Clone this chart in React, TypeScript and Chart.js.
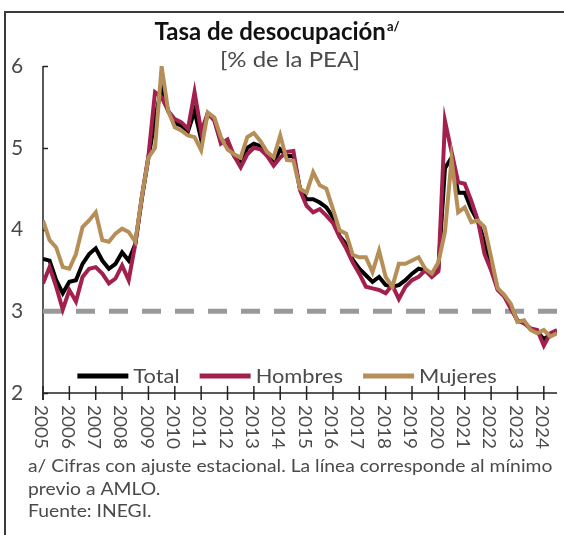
import React, { useEffect, useRef } from 'react';
import { Chart, registerables } from 'chart.js';

Chart.register(...registerables);

// ---- Data (quarterly, 2005Q1 .. 2024Q3) ----
const START_YEAR = 2005;
const END_X = 2024.5;
const yearTicks = [2005, 2006, 2007, 2008, 2009, 2010, 2011, 2012, 2013, 2014, 2015, 2016, 2017, 2018, 2019, 2020, 2021, 2022, 2023, 2024];
const yTicks = [2, 3, 4, 5, 6];

const totalValues = [
  3.64, 3.62, 3.38, 3.22,
  3.36, 3.38, 3.58, 3.70,
  3.77, 3.62, 3.52, 3.58,
  3.72, 3.62, 3.82, 4.38,
  4.88, 5.35, 5.75, 5.45,
  5.30, 5.27, 5.20, 5.45,
  5.10, 5.42, 5.35, 5.08,
  5.05, 4.90, 4.80, 5.00,
  5.05, 5.02, 4.92, 4.82,
  4.98, 4.90, 4.90, 4.50,
  4.37, 4.37, 4.33, 4.27,
  4.15, 3.92, 3.82, 3.63,
  3.52, 3.44, 3.36, 3.42,
  3.32, 3.30, 3.32, 3.38,
  3.46, 3.52, 3.50, 3.44,
  3.52, 4.75, 4.88, 4.45,
  4.45, 4.25, 4.10, 3.85,
  3.58, 3.27, 3.19, 3.05,
  2.88, 2.87, 2.78, 2.75,
  2.66, 2.71, 2.75,
];

const hombresValues = [
  3.34, 3.54, 3.30, 3.02,
  3.26, 3.12, 3.42, 3.52,
  3.54, 3.46, 3.34, 3.40,
  3.56, 3.38, 3.82, 4.40,
  4.90, 5.68, 5.62, 5.45,
  5.35, 5.31, 5.23, 5.68,
  5.20, 5.42, 5.33, 5.05,
  5.10, 4.90, 4.76, 4.92,
  5.00, 4.98, 4.90, 4.78,
  4.88, 4.95, 4.96, 4.48,
  4.29, 4.21, 4.25, 4.17,
  4.08, 3.91, 3.77, 3.60,
  3.46, 3.30, 3.28, 3.26,
  3.22, 3.32, 3.15, 3.30,
  3.38, 3.42, 3.50, 3.42,
  3.49, 5.33, 4.95, 4.58,
  4.56, 4.35, 4.11, 3.70,
  3.50, 3.26, 3.18, 3.03,
  2.89, 2.85, 2.79, 2.77,
  2.58, 2.73, 2.77,
];

const mujeresValues = [
  4.11, 3.87, 3.78, 3.54,
  3.52, 3.70, 4.03, 4.11,
  4.21, 3.87, 3.85, 3.95,
  4.01, 3.97, 3.85, 4.40,
  4.88, 5.00, 5.99, 5.45,
  5.25, 5.21, 5.15, 5.13,
  4.97, 5.43, 5.37, 5.13,
  4.98, 4.92, 4.88, 5.13,
  5.18, 5.08, 4.95, 4.88,
  5.15, 4.85, 4.84, 4.50,
  4.45, 4.70, 4.54, 4.50,
  4.25, 3.99, 3.95, 3.69,
  3.66, 3.66, 3.48, 3.74,
  3.42, 3.30, 3.58, 3.58,
  3.62, 3.66, 3.52, 3.46,
  3.60, 3.97, 4.86, 4.21,
  4.27, 4.09, 4.11, 4.03,
  3.66, 3.28, 3.20, 3.09,
  2.87, 2.89, 2.77, 2.73,
  2.77, 2.69, 2.73,
];

const MIN_PREVIO_AMLO = 3;

const seriesLabels = ['Total', 'Hombres', 'Mujeres'];
const TITLE = 'Tasa de desocupación';
const TITLE_SUP = 'a/';
const SUBTITLE = '[% de la PEA]';
const FOOTNOTES = [
  'a/ Cifras con ajuste estacional. La línea corresponde al mínimo',
  'previo a AMLO.',
  'Fuente: INEGI.',
];

// ---- Styles ----
const COLOR_TOTAL = '#000000';
const COLOR_HOMBRES = '#A3204C';
const COLOR_MUJERES = '#B58E58';
const COLOR_DASH = '#999999';
const TEXT_COLOR = '#4a4a4a';
const FONT = 'Lato, "Open Sans", sans-serif';
const H_SCALE = 1.17;

const toPoints = (vals: number[]) => vals.map((v, i) => ({ x: START_YEAR + i / 4, y: v }));

function fillWide(ctx: any, text: string, x: number, y: number, sx: number) {
  ctx.save();
  ctx.translate(x, y);
  ctx.scale(sx, 1);
  ctx.fillText(text, 0, 0);
  ctx.restore();
}

const decorPlugin = {
  id: 'decor',
  beforeDraw(chart: any) {
    const ctx = chart.ctx;
    ctx.save();
    ctx.fillStyle = '#ffffff';
    ctx.fillRect(0, 0, chart.width, chart.height);
    ctx.strokeStyle = '#3a3a3a';
    ctx.lineWidth = 2;
    ctx.beginPath();
    ctx.moveTo(5, chart.height);
    ctx.lineTo(5, 12);
    ctx.lineTo(chart.width, 12);
    ctx.stroke();
    ctx.restore();
  },
  beforeDatasetsDraw(chart: any) {
    const ctx = chart.ctx;
    const xs = chart.scales.x;
    const ys = chart.scales.y;
    const x0 = xs.getPixelForValue(START_YEAR);
    const x1 = xs.getPixelForValue(END_X);
    const yBase = ys.getPixelForValue(yTicks[0]);
    const yTop = ys.getPixelForValue(yTicks[yTicks.length - 1]);
    ctx.save();
    ctx.strokeStyle = '#222222';
    ctx.lineWidth = 1.5;
    ctx.beginPath();
    ctx.moveTo(x0, yTop);
    ctx.lineTo(x0, yBase + 7);
    ctx.stroke();
    yTicks.forEach((t) => {
      const y = Math.round(ys.getPixelForValue(t)) + 0.5;
      ctx.beginPath();
      ctx.moveTo(x0, y);
      ctx.lineTo(x0 + 5, y);
      ctx.stroke();
    });
    ctx.beginPath();
    ctx.moveTo(x0, yBase);
    ctx.lineTo(x1, yBase);
    ctx.stroke();
    yearTicks.forEach((yr) => {
      const x = xs.getPixelForValue(yr);
      ctx.beginPath();
      ctx.moveTo(x, yBase - 7);
      ctx.lineTo(x, yBase + 7);
      ctx.stroke();
    });
    ctx.fillStyle = TEXT_COLOR;
    ctx.font = `21px ${FONT}`;
    ctx.textAlign = 'center';
    ctx.textBaseline = 'middle';
    yTicks.forEach((t) => {
      ctx.fillText(String(t), 17, ys.getPixelForValue(t));
    });
    ctx.font = `18px ${FONT}`;
    ctx.textAlign = 'left';
    ctx.textBaseline = 'middle';
    yearTicks.forEach((yr) => {
      const x = xs.getPixelForValue(yr);
      ctx.save();
      ctx.translate(x - 2, yBase + 12);
      ctx.rotate(Math.PI / 2);
      ctx.scale(1.05, 1);
      ctx.fillText(String(yr), 0, 0);
      ctx.restore();
    });
    ctx.restore();
  },
  afterDraw(chart: any) {
    const ctx = chart.ctx;
    ctx.save();
    // title
    ctx.fillStyle = '#111111';
    ctx.textBaseline = 'alphabetic';
    ctx.textAlign = 'left';
    ctx.font = `bold 24px ${FONT}`;
    const tw = ctx.measureText(TITLE).width;
    ctx.font = `bold 13px ${FONT}`;
    const sw = ctx.measureText(TITLE_SUP).width;
    const tx = 277 - (tw + sw + 1) / 2;
    ctx.font = `bold 24px ${FONT}`;
    ctx.fillText(TITLE, tx, 40);
    ctx.font = `bold 13px ${FONT}`;
    ctx.fillText(TITLE_SUP, tx + tw + 1, 31);
    // subtitle
    ctx.fillStyle = TEXT_COLOR;
    ctx.font = `20.5px ${FONT}`;
    const subW = ctx.measureText(SUBTITLE).width * H_SCALE;
    fillWide(ctx, SUBTITLE, 290 - subW / 2, 67, H_SCALE);

    // legend
    const colors = [COLOR_TOTAL, COLOR_HOMBRES, COLOR_MUJERES];
    ctx.font = `19px ${FONT}`;
    ctx.textBaseline = 'middle';
    const LS = 1.15;
    const sampleW = 51;
    const gap = 5;
    const itemGap = 20;
    const widths = seriesLabels.map((l) => sampleW + gap + ctx.measureText(l).width * LS);
    const totalW = widths.reduce((a, b) => a + b, 0) + itemGap * (seriesLabels.length - 1);
    let lx = 287 - totalW / 2;
    const ly = 376;
    seriesLabels.forEach((l, i) => {
      ctx.strokeStyle = colors[i];
      ctx.lineWidth = 5;
      ctx.beginPath();
      ctx.moveTo(lx, ly);
      ctx.lineTo(lx + sampleW, ly);
      ctx.stroke();
      ctx.fillStyle = TEXT_COLOR;
      fillWide(ctx, l, lx + sampleW + gap, ly + 1, LS);
      lx += widths[i] + itemGap;
    });

    // footnotes
    ctx.font = `16.5px ${FONT}`;
    ctx.textBaseline = 'alphabetic';
    ctx.fillStyle = TEXT_COLOR;
    FOOTNOTES.forEach((line, i) => {
      fillWide(ctx, line, 28, 472 + i * 22.5, H_SCALE);
    });
    ctx.restore();
  },
};

export default function App() {
  const canvasRef = useRef<HTMLCanvasElement | null>(null);

  useEffect(() => {
    if (!canvasRef.current) return;
    const chart = new Chart(canvasRef.current, {
      type: 'line',
      data: {
        datasets: [
          {
            label: seriesLabels[2],
            data: toPoints(mujeresValues),
            borderColor: COLOR_MUJERES,
            borderWidth: 4,
            pointRadius: 0,
            tension: 0,
            order: 0,
          },
          {
            label: seriesLabels[1],
            data: toPoints(hombresValues),
            borderColor: COLOR_HOMBRES,
            borderWidth: 4,
            pointRadius: 0,
            tension: 0,
            order: 1,
          },
          {
            label: seriesLabels[0],
            data: toPoints(totalValues),
            borderColor: COLOR_TOTAL,
            borderWidth: 4,
            pointRadius: 0,
            tension: 0,
            order: 2,
          },
          {
            label: 'Mínimo previo a AMLO',
            data: [
              { x: START_YEAR, y: MIN_PREVIO_AMLO },
              { x: END_X, y: MIN_PREVIO_AMLO },
            ],
            borderColor: COLOR_DASH,
            borderWidth: 5,
            borderDash: [19, 14],
            pointRadius: 0,
            order: 3,
          },
        ],
      },
      options: {
        responsive: false,
        animation: false,
        layout: { padding: { left: 43, right: 7, top: 66, bottom: 142 } },
        scales: {
          x: { type: 'linear', min: START_YEAR, max: END_X, display: false },
          y: { type: 'linear', min: 2, max: 6, display: false },
        },
        plugins: {
          legend: { display: false },
          tooltip: { enabled: false },
          title: { display: false },
        },
      },
      plugins: [decorPlugin],
    });
    return () => chart.destroy();
  }, []);

  return (
    <div style={{ position: 'absolute', left: 0, top: 0, width: 564, height: 535 }}>
      <canvas ref={canvasRef} width={564} height={535} style={{ width: 564, height: 535, display: 'block' }} />
    </div>
  );
}
